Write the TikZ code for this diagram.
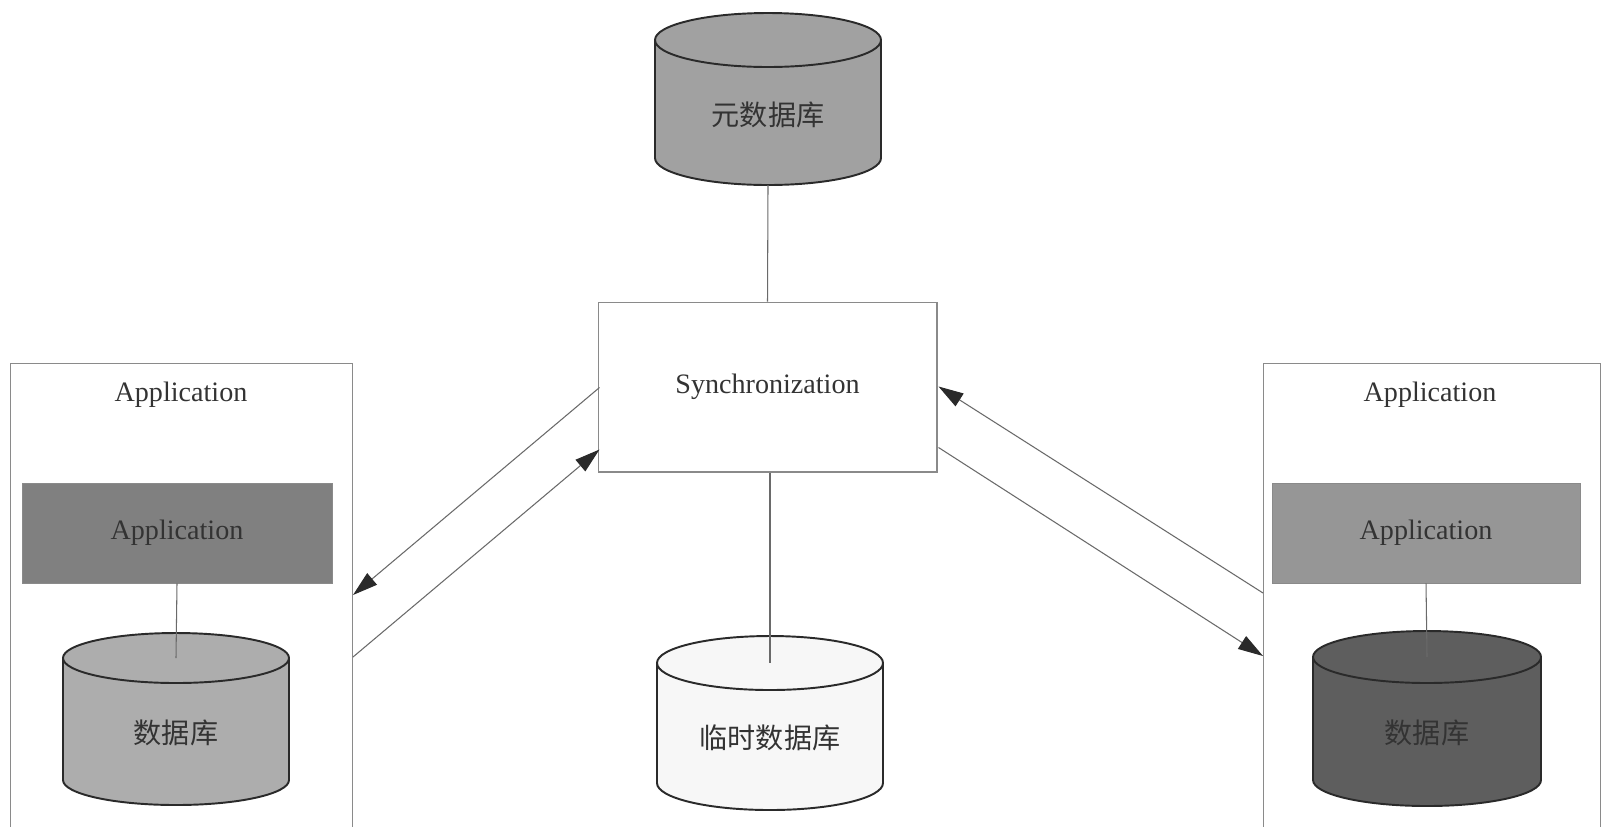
\documentclass[tikz,border=0pt]{standalone}
\usepackage{fontspec}
\setmainfont{Liberation Serif}
\newfontfamily\cjk{Noto Sans CJK SC}
\usetikzlibrary{arrows.meta,calc}

\definecolor{edgegray}{HTML}{8A8A8A}
\definecolor{linkgray}{HTML}{6A6A6A}
\definecolor{inkdark}{HTML}{2A2A2A}
\definecolor{txtgray}{HTML}{333333}

% Database cylinder: name, cx, top-ellipse y, bottom-ellipse y, rx, ry, fill
\newcommand\dbcyl[7]{%
  \filldraw[fill=#7, draw=inkdark, line width=1.1pt]
    (#2-#5,#3) -- (#2-#5,#4)
    arc[start angle=180, end angle=360, x radius={#5*0.02cm}, y radius={#6*0.02cm}]
    -- (#2+#5,#3)
    arc[start angle=0, end angle=180, x radius={#5*0.02cm}, y radius={#6*0.02cm}];
  \draw[draw=inkdark, line width=1.1pt] (#2-#5,#3)
    arc[start angle=180, end angle=360, x radius={#5*0.02cm}, y radius={#6*0.02cm}];
  \coordinate (#1-top) at (#2,#3);
  \coordinate (#1-bot) at (#2,#4+#6);
}

\begin{document}
\begin{tikzpicture}[x=0.02cm, y=-0.02cm,
  font=\fontsize{16}{19}\selectfont,
  txt/.style={text=txtgray, inner sep=0pt},
  cjktxt/.style={text=txtgray, inner sep=0pt, font=\cjk\fontsize{16}{19}\selectfont},
  outerbox/.style={draw=edgegray, line width=0.6pt, fill=white, anchor=north west, inner sep=0pt},
  appbox/.style={draw=edgegray, line width=0.5pt, minimum height=2cm, inner sep=0pt, text=txtgray},
  link/.style={draw=linkgray, line width=0.6pt},
  flow/.style={link, -{Triangle[length=0.5cm, width=0.3cm, color=inkdark]}},
]
\clip (0,0) rectangle (1604,826);
\fill[white] (0,0) rectangle (1604,826);

% side containers (open past the lower edge)
\node[outerbox, minimum width=6.84cm, minimum height=10cm] (lbox) at (10,363) {};
\node[outerbox, minimum width=6.74cm, minimum height=10cm] (rbox) at (1263,363) {};
\node[txt] (ltitle) at (181,395) {Application};
\node[txt] (rtitle) at (1430,395) {Application};

% application layers
\node[appbox, fill=black!50, minimum width=6.2cm] (lapp) at (177,533) {Application};
\node[appbox, fill=black!41, minimum width=6.16cm] (rapp) at (1426,533) {Application};

% synchronization service
\node[draw=edgegray, line width=0.6pt, minimum width=6.78cm, minimum height=3.4cm,
      inner sep=0pt, text=txtgray] (sync) at (767.5,387) {Synchronization};

% databases
\dbcyl{mdb}{768}{40}{158}{113}{27}{black!37}
\node[cjktxt] (mdbl) at (768,115) {元数据库};

\dbcyl{ldb}{176}{658}{780}{113}{25}{black!32}
\node[cjktxt] (ldbl) at (176,733) {数据库};

\dbcyl{rdb}{1427}{657}{780}{114}{26}{black!63}
\node[cjktxt, text=black!80] (rdbl) at (1427,733) {数据库};

\dbcyl{tdb}{770}{663}{783}{113}{27}{black!3}
\node[cjktxt] (tdbl) at (770,738) {临时数据库};

% vertical links
\draw[link] (mdb-bot) -- (sync.north);
\draw[link] (tdb-top |- sync.south) -- (tdb-top);
\draw[link] (lapp.south) -- (ldb-top);
\draw[link] (rapp.south) -- (rdb-top);

% attachment points on the box borders
\path (sync.north west) ++(2,86)  coordinate (s1);
\path (sync.north west) ++(2,148) coordinate (s2);
\path (sync.north east) ++(1,85)  coordinate (s3);
\path (sync.north east) ++(1,146) coordinate (s4);
\path (lbox.north east) ++(0,232) coordinate (l1);
\path (lbox.north east) ++(0,294) coordinate (l2);
\path (rbox.north west) ++(0,230) coordinate (r1);
\path (rbox.north west) ++(0,293) coordinate (r2);

% data exchange
\draw[flow] (s1) -- (l1);
\draw[flow] (l2) -- (s2);
\draw[flow] (r1) -- (s3);
\draw[flow] (s4) -- (r2);
\end{tikzpicture}
\end{document}
